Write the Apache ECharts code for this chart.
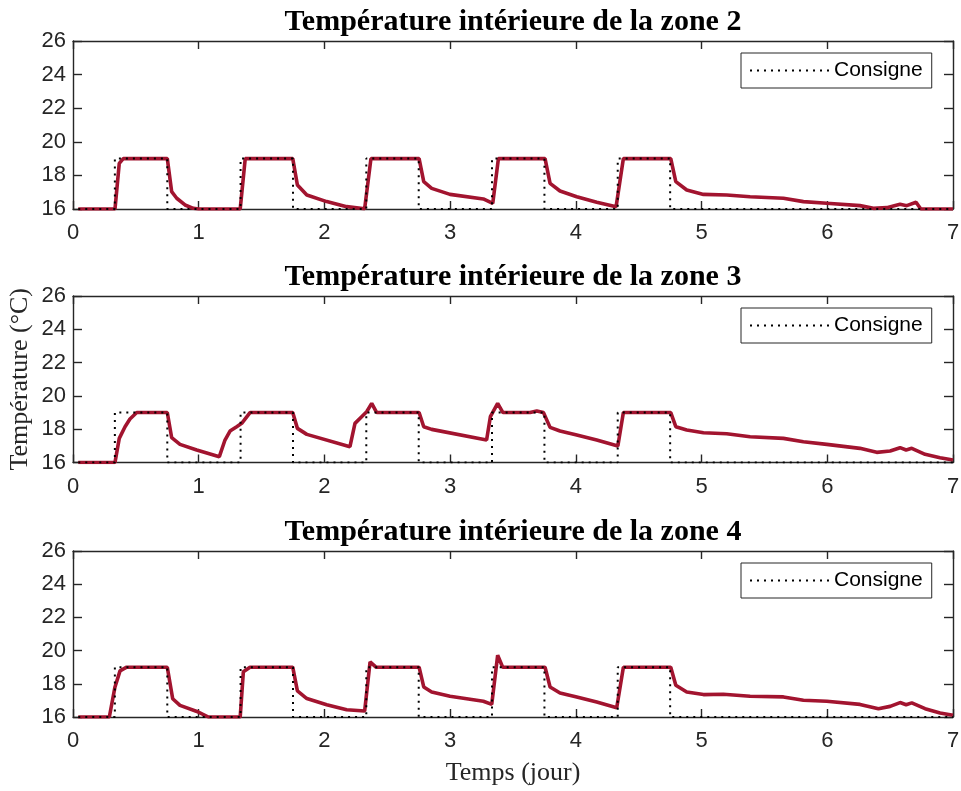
<!DOCTYPE html>
<html>
<head>
<meta charset="utf-8">
<script src="https://cdn.jsdelivr.net/npm/echarts@6/dist/echarts.min.js"></script>
<style>html,body{margin:0;padding:0;background:#fff;}#c{width:961px;height:791px;}</style>
</head>
<body>
<div id="c"></div>
<script>
// ---- Data (t in days, T in °C) ----
var xTicks = [0,1,2,3,4,5,6,7];
var yTicks = [16,18,20,22,24,26];
var titles = ['Température intérieure de la zone 2','Température intérieure de la zone 3','Température intérieure de la zone 4'];

var consigneT = [0.042,0.333,0.333,0.75,0.75,1.333,1.333,1.75,1.75,2.333,2.333,2.75,2.75,3.333,3.333,3.75,3.75,4.333,4.333,4.75,4.75,7];
var consigneV = [16,16,19,19,16,16,19,19,16,16,19,19,16,16,19,19,16,16,19,19,16,16];

var zone2 = [[0.042,16],[0.334,16],[0.368,18.72],[0.40,19],[0.75,19],[0.785,17.03],[0.825,16.64],[0.891,16.24],[0.957,16.04],[1.0,16],[1.33,16],[1.37,19],[1.748,19],[1.785,17.43],[1.86,16.83],[2.018,16.44],[2.177,16.14],[2.32,16.02],[2.33,16],[2.37,19],[2.753,19],[2.79,17.63],[2.853,17.23],[2.999,16.87],[3.264,16.6],[3.339,16.34],[3.384,19],[3.755,19],[3.795,17.53],[3.874,17.07],[4.007,16.73],[4.166,16.4],[4.32,16.14],[4.378,19],[4.755,19],[4.795,17.63],[4.882,17.13],[5.015,16.87],[5.2,16.83],[5.386,16.73],[5.651,16.64],[5.81,16.44],[5.996,16.34],[6.26,16.2],[6.367,16.04],[6.473,16.08],[6.579,16.28],[6.632,16.2],[6.706,16.4],[6.744,16.0],[7,16]];

var zone3 = [[0.042,16],[0.334,16],[0.368,17.45],[0.414,18.15],[0.453,18.61],[0.507,19],[0.75,19],[0.785,17.49],[0.851,17.09],[0.984,16.75],[1.164,16.35],[1.209,17.35],[1.249,17.89],[1.302,18.15],[1.342,18.35],[1.408,19],[1.748,19],[1.785,18.05],[1.86,17.69],[2.203,16.95],[2.243,18.35],[2.296,18.75],[2.336,19.05],[2.376,19.55],[2.416,19],[2.753,19],[2.79,18.15],[2.853,17.99],[3.29,17.35],[3.32,18.75],[3.378,19.55],[3.42,19],[3.636,19],[3.689,19.09],[3.742,19],[3.795,18.11],[3.874,17.89],[4.007,17.65],[4.166,17.35],[4.334,16.99],[4.378,19],[4.755,19],[4.795,18.15],[4.882,17.95],[5.015,17.79],[5.2,17.73],[5.386,17.55],[5.651,17.45],[5.81,17.25],[5.996,17.09],[6.26,16.85],[6.393,16.61],[6.5,16.69],[6.579,16.89],[6.627,16.75],[6.672,16.85],[6.778,16.49],[6.897,16.29],[7.0,16.15]];

var zone4 = [[0.042,16],[0.289,16],[0.334,17.81],[0.374,18.78],[0.427,19],[0.75,19],[0.793,17.1],[0.851,16.7],[0.997,16.3],[1.077,16],[1.33,16],[1.355,18.72],[1.408,19],[1.748,19],[1.785,17.57],[1.86,17.11],[2.018,16.74],[2.177,16.44],[2.32,16.36],[2.363,19.32],[2.41,19],[2.753,19],[2.79,17.81],[2.853,17.51],[2.999,17.25],[3.264,16.95],[3.331,16.76],[3.378,19.72],[3.418,19],[3.755,19],[3.795,17.81],[3.874,17.45],[4.007,17.21],[4.166,16.9],[4.325,16.56],[4.378,19],[4.755,19],[4.795,17.91],[4.882,17.51],[5.015,17.35],[5.173,17.37],[5.386,17.25],[5.651,17.21],[5.81,17.01],[5.996,16.95],[6.26,16.76],[6.407,16.5],[6.5,16.64],[6.579,16.87],[6.627,16.74],[6.672,16.85],[6.778,16.5],[6.897,16.24],[7.0,16.1]];

var zones = [zone2, zone3, zone4];

// ---- Layout ----
var gridTops = [41, 296, 551];
var gridHeights = [168, 166.5, 166];
var axisColor = '#262626';
var red = '#A2142F';
var tickFont = 'Liberation Sans';
var serif = 'Liberation Serif';

var consigne = consigneT.map(function(t,i){return [t, consigneV[i]];});

var grids = [], xAxes = [], yAxes = [], series = [], legends = [], titleArr = [];
for (var g = 0; g < 3; g++) {
  grids.push({left:73, right:8, top:gridTops[g], height:gridHeights[g], containLabel:false, outerBoundsMode:'none'});
  var common = {
    gridIndex:g, type:'value', min:0, max:7, interval:1,
    axisLine:{show:true, onZero:false, lineStyle:{color:axisColor, width:1.4}},
    axisTick:{show:true, inside:true, length:8, lineStyle:{color:axisColor, width:1.4}},
    splitLine:{show:false}
  };
  xAxes.push(Object.assign({}, common, {position:'bottom',
    axisLabel:{show:true, margin:13, color:axisColor, fontFamily:tickFont, fontSize:22,
      formatter:function(v){return xTicks.indexOf(v)>=0 ? String(v) : '';}},
    name: g===2 ? 'Temps (jour)' : '', nameLocation:'middle', nameGap:43, nameMoveOverlap:false,
    nameTextStyle:{fontFamily:serif, fontSize:26, color:axisColor}
  }));
  xAxes.push(Object.assign({}, common, {position:'top', axisLabel:{show:false}}));
  var ycommon = {
    gridIndex:g, type:'value', min:16, max:26, interval:2,
    axisLine:{show:true, onZero:false, lineStyle:{color:axisColor, width:1.4}},
    axisTick:{show:true, inside:true, length:9, lineStyle:{color:axisColor, width:1.4}},
    splitLine:{show:false}
  };
  yAxes.push(Object.assign({}, ycommon, {position:'left',
    axisLabel:{show:true, margin:7, color:axisColor, fontFamily:tickFont, fontSize:22,
      formatter:function(v){return yTicks.indexOf(v)>=0 ? String(v) : '';}},
    name: g===1 ? 'Température (°C)' : '', nameLocation:'middle', nameGap:40, nameRotate:90,
    nameMoveOverlap:false,
    nameTextStyle:{fontFamily:serif, fontSize:26, color:axisColor}
  }));
  yAxes.push(Object.assign({}, ycommon, {position:'right', axisLabel:{show:false}}));

  series.push({
    name:'Zone '+(g+2), type:'line', xAxisIndex:g*2, yAxisIndex:g*2,
    data:zones[g], symbol:'none', z:2,
    lineStyle:{color:red, width:3.6}, itemStyle:{color:red}
  });
  series.push({
    name:'Consigne', type:'line', xAxisIndex:g*2, yAxisIndex:g*2,
    data:consigne, symbol:'none', z:3,
    lineStyle:{color:'#000', width:2, type:[2,5]}, itemStyle:{color:'#000'}
  });

  legends.push({
    data:['Consigne'], left:741, top:gridTops[g]+12, orient:'horizontal',
    backgroundColor:'#fff', borderColor:axisColor, borderWidth:1,
    padding:[7,9,7,8], itemWidth:79, itemHeight:20, itemGap:0,
    selectedMode:false,
    textStyle:{fontFamily:tickFont, fontSize:21, color:'#000'},
    itemStyle:{opacity:0},
    lineStyle:{color:'#000', width:2, type:[2,5], opacity:1}
  });

  titleArr.push({
    text:titles[g], left:513, textAlign:'center', top:gridTops[g]-34, padding:0,
    textStyle:{fontFamily:serif, fontWeight:'bold', fontSize:30, color:'#000'}
  });
}

var chart = echarts.init(document.getElementById('c'), null, {renderer:'canvas'});
chart.setOption({
  animation:false,
  backgroundColor:'#fff',
  title:titleArr,
  legend:legends,
  grid:grids,
  xAxis:xAxes,
  yAxis:yAxes,
  series:series
});
</script>
</body>
</html>
